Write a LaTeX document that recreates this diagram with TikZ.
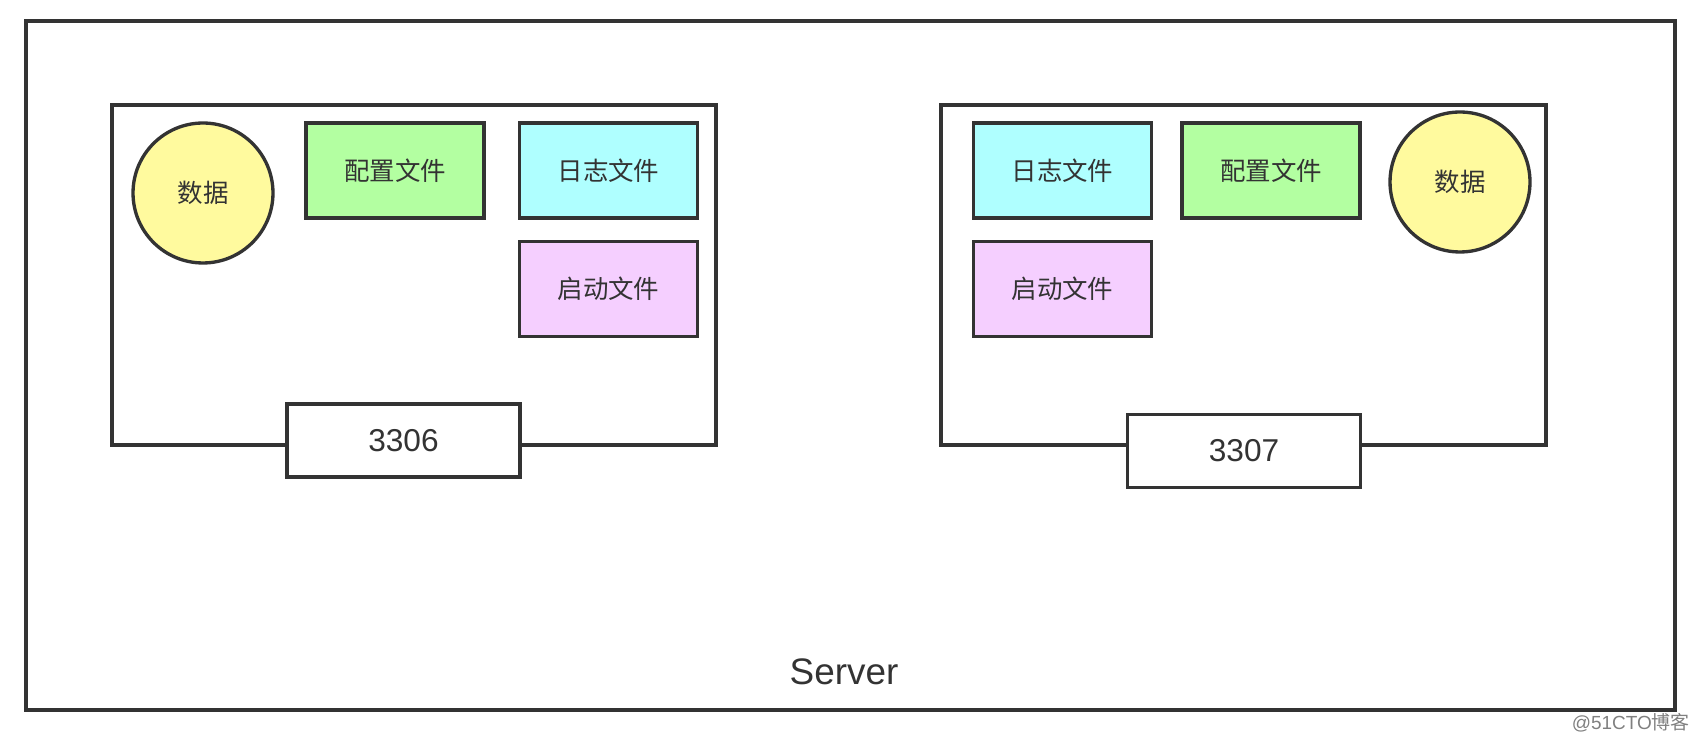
\documentclass[tikz,border=0pt]{standalone}
\usepackage{fontspec}
\setmainfont{Liberation Sans}
\newfontfamily\cjk{Noto Sans CJK SC}
\usetikzlibrary{positioning}
\definecolor{linegray}{HTML}{333333}
\definecolor{confgreen}{HTML}{B3FFA1}
\definecolor{logcyan}{HTML}{AFFFFF}
\definecolor{startpink}{HTML}{F5CFFF}
\definecolor{datayellow}{HTML}{FFFA9E}
\tikzset{
  frame/.style={draw=linegray,line width=1.9pt,rectangle,inner sep=0pt},
  filebox/.style={frame,minimum width=3.56cm,minimum height=1.9cm,font=\cjk\fontsize{14.5}{16}\selectfont,text=linegray},
  datacircle/.style={draw=linegray,line width=1.9pt,circle,fill=datayellow,minimum size=2.8cm,font=\cjk\fontsize{14.5}{16}\selectfont,text=linegray},
  portbox/.style={frame,fill=white,minimum width=4.66cm,minimum height=1.46cm,font=\fontsize{18}{20}\selectfont,text=linegray}
}
\begin{document}
\begin{tikzpicture}[x=0.02cm,y=-0.02cm]
\useasboundingbox(0,0)rectangle(1700,742);
% server
\node[frame,minimum width=32.98cm,minimum height=13.78cm](server)at(850.5,365.5){};
\node[font=\fontsize{21}{24}\selectfont,text=linegray](srvlabel)at(844,672){Server};
% instance 3306
\node[frame,minimum width=12.08cm,minimum height=6.8cm](inst1)at(414,275){};
\node[datacircle](data1)at(203,193){数据};
\node[filebox,fill=confgreen](conf1)at(395,170.5){配置文件};
\node[filebox,fill=logcyan](log1)at(608.5,170.5){日志文件};
\node[filebox,fill=startpink,below=0.4cm of log1](start1){启动文件};
\node[portbox](port1)at(403.5,440.5){3306};
% instance 3307
\node[frame,minimum width=12.1cm,minimum height=6.8cm](inst2)at(1243.5,275){};
\node[filebox,fill=logcyan](log2)at(1062.5,170.5){日志文件};
\node[filebox,fill=confgreen](conf2)at(1271,170.5){配置文件};
\node[datacircle](data2)at(1460,182){数据};
\node[filebox,fill=startpink,below=0.4cm of log2](start2){启动文件};
\node[portbox](port2)at(1244,451){3307};
% watermark
\node[font=\fontsize{10.8}{12}\selectfont,text=gray,anchor=east](mark)at(1696,723){@51CTO\cjk 博客};
\end{tikzpicture}
\end{document}
